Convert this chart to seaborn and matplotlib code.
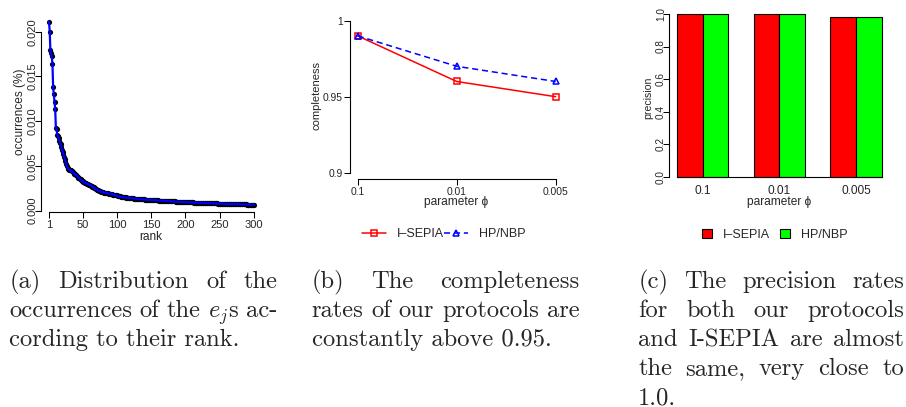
import numpy as np
import pandas as pd
import matplotlib
matplotlib.use("Agg")
import matplotlib.pyplot as plt
import seaborn as sns
from matplotlib.lines import Line2D
from matplotlib.patches import Patch

# ---------------- data ----------------
occurrences = [
    0.0211, 0.0200, 0.0179, 0.0176, 0.0173, 0.0164, 0.0138, 0.0130, 0.0122, 0.0114,
    0.0092, 0.0091, 0.0085, 0.0083, 0.0081, 0.0078, 0.0076, 0.0074, 0.0071, 0.0068,
    0.0066, 0.0063, 0.0060, 0.0058, 0.0056, 0.0052, 0.0050, 0.0048, 0.0047, 0.0046,
    0.0046, 0.0045, 0.0045, 0.0044, 0.0044, 0.0043, 0.0042, 0.0041, 0.0041, 0.0040,
    0.0040, 0.0039, 0.0038, 0.0037, 0.0036, 0.0035, 0.0035, 0.0034, 0.0033, 0.0033,
    0.0032, 0.0032, 0.0031, 0.0031, 0.0031, 0.0030, 0.0030, 0.0030, 0.0029, 0.0029,
    0.0029, 0.0028, 0.0028, 0.0027, 0.0026, 0.0026, 0.0025, 0.0025, 0.0024, 0.0024,
    0.0023, 0.0023, 0.0023, 0.0022, 0.0022, 0.0022, 0.0021, 0.0021, 0.0021, 0.0021,
    0.0020, 0.0020, 0.0020, 0.0020, 0.0020, 0.0020, 0.0020, 0.0019, 0.0019, 0.0019,
    0.0019, 0.0019, 0.0019, 0.0018, 0.0018, 0.0018, 0.0017, 0.0017, 0.0017, 0.0017,
    0.0016, 0.0016, 0.0016, 0.0016, 0.0016, 0.0015, 0.0015, 0.0015, 0.0015, 0.0015,
    0.00150, 0.00149, 0.00148, 0.00147, 0.00146, 0.00145, 0.00144, 0.00143, 0.00142, 0.00141,
    0.00140, 0.00139, 0.00138, 0.00137, 0.00136, 0.00135, 0.00134, 0.00133, 0.00132, 0.00131,
    0.00130, 0.00130, 0.00129, 0.00129, 0.00128, 0.00128, 0.00127, 0.00127, 0.00126, 0.00126,
    0.00125, 0.00124, 0.00124, 0.00123, 0.00123, 0.00122, 0.00121, 0.00121, 0.00120, 0.00120,
    0.00119, 0.00119, 0.00118, 0.00118, 0.00117, 0.00117, 0.00116, 0.00116, 0.00115, 0.00115,
    0.00114, 0.00114, 0.00113, 0.00113, 0.00112, 0.00112, 0.00111, 0.00111, 0.00110, 0.00110,
    0.00110, 0.00109, 0.00109, 0.00108, 0.00108, 0.00107, 0.00107, 0.00106, 0.00106, 0.00105,
    0.00105, 0.00104, 0.00104, 0.00103, 0.00103, 0.00102, 0.00102, 0.00101, 0.00101, 0.00100,
    0.00100, 0.00099, 0.00099, 0.00098, 0.00098, 0.00097, 0.00097, 0.00096, 0.00096, 0.00095,
    0.00095, 0.00095, 0.00094, 0.00094, 0.00094, 0.00093, 0.00093, 0.00093, 0.00092, 0.00092,
    0.00092, 0.00091, 0.00091, 0.00091, 0.00090, 0.00090, 0.00090, 0.00090, 0.00089, 0.00089,
    0.00089, 0.00089, 0.00088, 0.00088, 0.00088, 0.00087, 0.00087, 0.00087, 0.00086, 0.00086,
    0.00086, 0.00085, 0.00085, 0.00085, 0.00084, 0.00084, 0.00084, 0.00083, 0.00083, 0.00083,
    0.00082, 0.00082, 0.00082, 0.00081, 0.00081, 0.00081, 0.00080, 0.00080, 0.00080, 0.00079,
    0.00079, 0.00079, 0.00078, 0.00078, 0.00078, 0.00077, 0.00077, 0.00077, 0.00076, 0.00076,
    0.00076, 0.00076, 0.00075, 0.00075, 0.00075, 0.00075, 0.00074, 0.00074, 0.00074, 0.00074,
    0.00073, 0.00073, 0.00073, 0.00073, 0.00072, 0.00072, 0.00072, 0.00072, 0.00072, 0.00071,
    0.00071, 0.00071, 0.00071, 0.00071, 0.00070, 0.00070, 0.00070, 0.00070, 0.00070, 0.00069,
    0.00069, 0.00069, 0.00069, 0.00069, 0.00068, 0.00068, 0.00068, 0.00068, 0.00068, 0.00067,
]
rank_ticks = [1, 50, 100, 150, 200, 250, 300]
occ_ticks = [0.0, 0.005, 0.010, 0.015, 0.020]
occ_tick_labels = ["0.000", "0.005", "0.010", "0.015", "0.020"]

phi_labels = ["0.1", "0.01", "0.005"]
protocols = ["I\u2013SEPIA", "HP/NBP"]
completeness_isepia = [0.99, 0.96, 0.95]
completeness_hpnbp = [0.99, 0.97, 0.96]
comp_ticks = [0.9, 0.95, 1.0]
comp_tick_labels = ["0.9", "0.95", "1"]

precision_isepia = [1.0, 1.0, 0.98]
precision_hpnbp = [1.0, 1.0, 0.98]
prec_ticks = [0.0, 0.2, 0.4, 0.6, 0.8, 1.0]
prec_tick_labels = ["0.0", "0.2", "0.4", "0.6", "0.8", "1.0"]

cap_a = ["(a) Distribution of the", "occurrences of the $e_j$s ac-", "cording to their rank."]
cap_b = ["(b) The completeness", "rates of our protocols are", "constantly above 0.95."]
cap_c = ["(c) The precision rates", "for both our protocols", "and I-SEPIA are almost",
         "the same, very close to", "1.0."]

# ---------------- style ----------------
sns.set_style("ticks")
SANS = ["Liberation Sans", "DejaVu Sans"]
plt.rcParams["font.family"] = SANS
plt.rcParams["mathtext.fontset"] = "cm"
plt.rcParams["axes.linewidth"] = 0.8

W, H = 906, 407
fig = plt.figure(figsize=(W / 100, H / 100), dpi=100)
fig.patch.set_facecolor("white")


def rect(l, r, t, b):
    return [l / W, 1 - b / H, (r - l) / W, (b - t) / H]


def style_ticks(ax, fs_x, fs_y, ypad=1.0):
    ax.tick_params(axis="x", direction="out", length=4.3, width=0.75, labelsize=fs_x,
                   pad=1.5, color="black")
    ax.tick_params(axis="y", direction="out", length=4.3, width=0.75, labelsize=fs_y,
                   pad=ypad, color="black")
    for s in ax.spines.values():
        s.set_color("black")
    ax.spines["top"].set_visible(False)
    ax.spines["right"].set_visible(False)


def ftext(x, y, s, **kw):
    return fig.text(x / W, 1 - y / H, s, **kw)


# ---------------- panel (a) ----------------
axa = fig.add_axes(rect(40.8, 262.2, 14.7, 211.6))
dfa = pd.DataFrame({"rank": np.arange(1, len(occurrences) + 1), "occ": occurrences})
sns.scatterplot(data=dfa, x="rank", y="occ", color="black", s=14, linewidth=0,
                ax=axa, zorder=2)
sns.lineplot(data=dfa, x="rank", y="occ", color="blue", linewidth=1.6, ax=axa, zorder=3)
axa.set_xlim(-11, 312)
axa.set_ylim(-0.0001, 0.0219)
axa.set_xticks(rank_ticks)
axa.set_yticks(occ_ticks)
axa.set_yticklabels(occ_tick_labels)
axa.set_xlabel("")
axa.set_ylabel("")
style_ticks(axa, 8, 8, ypad=-2.2)
axa.spines["bottom"].set_bounds(1, 300)
axa.spines["left"].set_bounds(0, 0.02)
for lab in axa.get_yticklabels():
    lab.set_rotation(90)
    lab.set_va("center")
ftext(20, 111.7, "occurrences (%)", rotation=90, ha="center", va="center", fontsize=8.6)
ftext(151.3, 236.7, "rank", ha="center", va="center", fontsize=8.6)

# ---------------- panel (b) ----------------
axb = fig.add_axes(rect(349.8, 563.6, 14.6, 178.8))
dfb = pd.DataFrame({
    "phi": phi_labels * 2,
    "completeness": completeness_isepia + completeness_hpnbp,
    "protocol": [protocols[0]] * 3 + [protocols[1]] * 3,
})
sns.pointplot(data=dfb, x="phi", y="completeness", hue="protocol", order=phi_labels,
              hue_order=protocols, palette=["red", "blue"], markers=["s", "^"],
              linestyles=["-", (0, (4, 2.5))], errorbar=None, legend=False, ax=axb,
              markersize=5, linewidth=1.1)
for ln in axb.lines:
    ln.set_markerfacecolor("none")
    ln.set_markeredgewidth(1.1)
axb.set_xlim(-0.08, 2.08)
axb.set_ylim(0.896, 1.004)
axb.set_yticks(comp_ticks)
axb.set_yticklabels(comp_tick_labels)
axb.set_xlabel("")
axb.set_ylabel("")
style_ticks(axb, 7.4, 7.4)
axb.spines["bottom"].set_bounds(0, 2)
axb.spines["left"].set_bounds(0.9, 1.0)
ftext(316.7, 95.7, "completeness", rotation=90, ha="center", va="center", fontsize=8)
ftext(456.5, 202, "parameter \u03d5", ha="center", va="center", fontsize=8.6)
hb = [Line2D([], [], color="red", linewidth=1.1, marker="s", markersize=5,
             markerfacecolor="none", markeredgewidth=1.1),
      Line2D([], [], color="blue", linewidth=1.1, linestyle=(0, (4, 2.5)), marker="^",
             markersize=5, markerfacecolor="none", markeredgewidth=1.1)]
fig.legend(hb, protocols, loc="center", bbox_to_anchor=(444 / W, 1 - 234 / H), ncol=2,
           frameon=False, fontsize=9, handlelength=1.9, handletextpad=0.9,
           columnspacing=0.0, borderpad=0)

# ---------------- panel (c) ----------------
axc = fig.add_axes(rect(669.0, 889.7, 7.5, 183.2))
dfc = pd.DataFrame({
    "phi": phi_labels * 2,
    "precision": precision_isepia + precision_hpnbp,
    "protocol": [protocols[0]] * 3 + [protocols[1]] * 3,
})
sns.barplot(data=dfc, x="phi", y="precision", hue="protocol", order=phi_labels,
            hue_order=protocols, palette=["#FF0000", "#00FF00"], width=2 / 3, gap=0,
            edgecolor="black", linewidth=0.8, errorbar=None, legend=False, ax=axc,
            saturation=1)
axc.set_xlim(-0.44, 2.44)
axc.set_ylim(-0.04, 1.04)
axc.set_yticks(prec_ticks)
axc.set_yticklabels(prec_tick_labels)
axc.set_xlabel("")
axc.set_ylabel("")
style_ticks(axc, 8.6, 7.2, ypad=-2.0)
axc.tick_params(axis="x", length=0, pad=6.0)
axc.spines["left"].set_bounds(0, 1)
axc.spines["bottom"].set_position(("data", 0))
axc.spines["bottom"].set_bounds(-1 / 3, 2 + 1 / 3)
for lab in axc.get_yticklabels():
    lab.set_rotation(90)
    lab.set_va("center")
ftext(648.3, 98.3, "precision", rotation=90, ha="center", va="center", fontsize=7.6)
ftext(779, 201.5, "parameter \u03d5", ha="center", va="center", fontsize=8.6)
hc = [Patch(facecolor="#FF0000", edgecolor="black", linewidth=0.8),
      Patch(facecolor="#00FF00", edgecolor="black", linewidth=0.8)]
fig.legend(hc, protocols, loc="center", bbox_to_anchor=(775 / W, 1 - 235 / H), ncol=2,
           frameon=False, fontsize=9, handlelength=0.8, handleheight=0.8,
           handletextpad=0.9, columnspacing=0.8, borderpad=0)

# ---------------- captions ----------------
renderer = fig.canvas.get_renderer()
probe = fig.text(0, 0, "cording to their rank.", family="cmr10", fontsize=17)
pw = probe.get_window_extent(renderer).width
probe.remove()
CFS = 17 * 230.7 / pw
LS = 29.1


def caption(lines, x0, x1, y0):
    n = len(lines)
    for i, ln in enumerate(lines):
        y = y0 + i * LS
        if i < n - 1:
            words = ln.split(" ")
            texts = [ftext(0, y, w, family="cmr10", fontsize=CFS, va="baseline")
                     for w in words]
            widths = [t.get_window_extent(renderer).width for t in texts]
            gap = ((x1 - x0) - sum(widths)) / (len(words) - 1)
            x = x0
            for t, w in zip(texts, widths):
                t.set_x(x / W)
                x += w + gap
        else:
            ftext(x0, y, ln, family="cmr10", fontsize=CFS, va="baseline")


caption(cap_a, 9.3, 277.3, 288.0)
caption(cap_b, 311.7, 579.3, 288.0)
caption(cap_c, 638.3, 904.0, 288.0)

fig.savefig("out.png", dpi=100, facecolor="white")
